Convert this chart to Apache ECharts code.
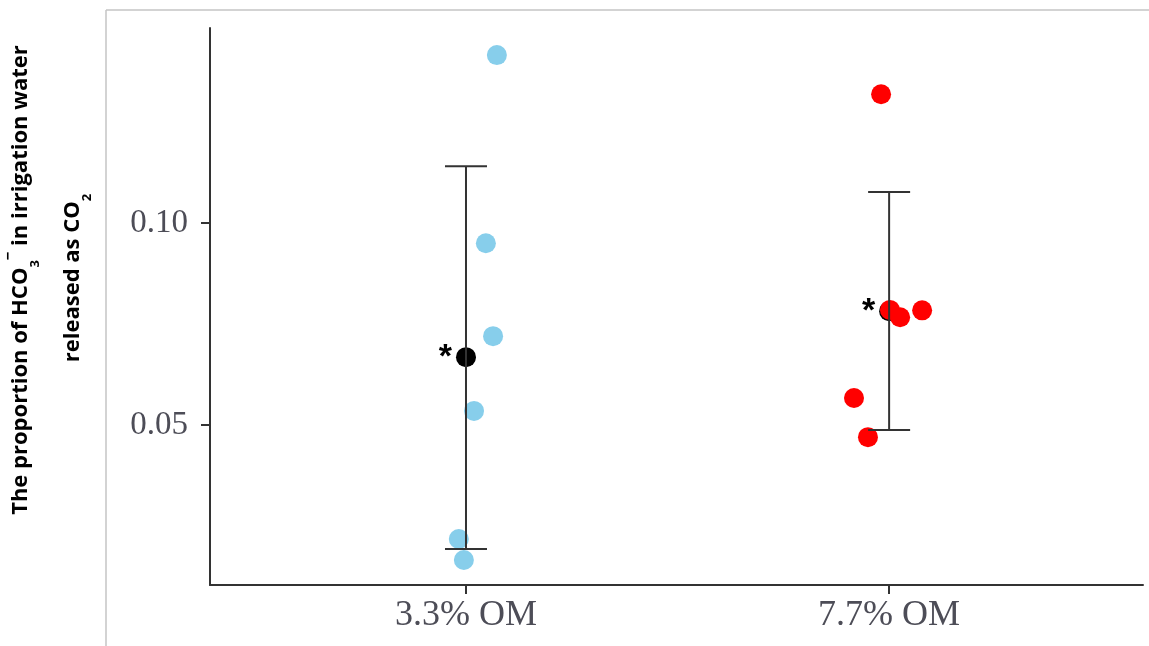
<!DOCTYPE html>
<html>
<head>
<meta charset="utf-8">
<script src="https://cdn.jsdelivr.net/npm/echarts@6/dist/echarts.min.js"></script>
<style>html,body{margin:0;padding:0;background:#fff;}#c{width:1149px;height:646px;}</style>
</head>
<body>
<div id="c"></div>
<script>
// ---- data ----
var categories = ['3.3% OM', '7.7% OM'];
var yTicks = [0.05, 0.10];
var lowOMValues  = [0.1416, 0.0950, 0.0720, 0.0535, 0.0218, 0.0166];
var lowOMJitter  = [1.073, 1.047, 1.064, 1.019, 0.983, 0.995];
var highOMValues = [0.1319, 0.0785, 0.0767, 0.0784, 0.0567, 0.0470];
var highOMJitter = [1.981, 2.002, 2.026, 2.078, 1.917, 1.950];
var groupPos = [1, 2];
var means = [0.0668, 0.0782];
var upper = [0.1141, 0.1077];
var lower = [0.0193, 0.0488];

function pairs(xs, ys) { return ys.map(function (v, i) { return [xs[i], v]; }); }

var chart = echarts.init(document.getElementById('c'));
var axisColor = '#333';
var tickFont = 'Liberation Serif';

chart.setOption({
  animation: false,
  backgroundColor: '#fff',
  grid: { left: 210, right: 6, top: 28, bottom: 61 },
  xAxis: {
    type: 'value', min: 0.395, max: 2.6,
    axisLine: { show: true, onZero: false, lineStyle: { color: axisColor, width: 2 } },
    axisTick: { show: true, customValues: groupPos, length: 9, lineStyle: { color: axisColor, width: 2 } },
    axisLabel: {
      customValues: groupPos, margin: 13,
      formatter: function (v) { return categories[Math.round(v) - 1]; },
      fontFamily: tickFont, fontSize: 36, color: '#4d4d57'
    },
    splitLine: { show: false }
  },
  yAxis: {
    type: 'value', min: 0.0104, max: 0.1483,
    axisLine: { show: true, onZero: false, lineStyle: { color: axisColor, width: 2 } },
    axisTick: { show: true, customValues: yTicks, length: 9, lineStyle: { color: axisColor, width: 2 } },
    axisLabel: {
      customValues: yTicks, margin: 22,
      formatter: function (v) { return v.toFixed(2); },
      fontFamily: tickFont, fontSize: 33, color: '#4d4d57'
    },
    splitLine: { show: false }
  },
  graphic: [
    { type: 'line', silent: true, shape: { x1: 106, y1: 10, x2: 106, y2: 646 }, style: { stroke: '#c4c4c4', lineWidth: 1.5 } },
    { type: 'line', silent: true, shape: { x1: 106, y1: 10, x2: 1149, y2: 10 }, style: { stroke: '#c4c4c4', lineWidth: 1.5 } },
    {
      type: 'text', x: 21, y: 280, rotation: Math.PI / 2, silent: true,
      style: {
        text: '{b|The proportion of HCO}{sub|3}{sup|−}{b| in irrigation water}',
        align: 'center', verticalAlign: 'middle',
        rich: {
          b: { fontFamily: 'Open Sans', fontWeight: 'bold', fontSize: 22, fill: '#000', lineHeight: 32 },
          sub: { fontFamily: 'Open Sans', fontWeight: 'bold', fontSize: 13, fill: '#000', padding: [28, 0, 0, 0] },
          sup: { fontFamily: 'Open Sans', fontWeight: 'bold', fontSize: 15, fill: '#000', padding: [0, 0, 24, 0] }
        }
      }
    },
    {
      type: 'text', x: 73, y: 278, rotation: Math.PI / 2, silent: true,
      style: {
        text: '{b|released as CO}{sub|2}',
        align: 'center', verticalAlign: 'middle',
        rich: {
          b: { fontFamily: 'Open Sans', fontWeight: 'bold', fontSize: 22, fill: '#000', lineHeight: 32 },
          sub: { fontFamily: 'Open Sans', fontWeight: 'bold', fontSize: 13, fill: '#000', padding: [28, 0, 0, 0] }
        }
      }
    }
  ],
  series: [
    {
      name: 'mean', type: 'scatter', z: 2,
      symbolSize: 20,
      itemStyle: { color: '#000', opacity: 1 },
      data: pairs(groupPos, means),
      label: { show: true, position: 'left', distance: 4, formatter: '*', fontSize: 34, fontWeight: 'bold', fontFamily: 'Liberation Sans', color: '#000' }
    },
    {
      name: categories[0], type: 'scatter', z: 3,
      symbolSize: 20,
      itemStyle: { color: '#87ceeb', opacity: 1 },
      data: pairs(lowOMJitter, lowOMValues)
    },
    {
      name: categories[1], type: 'scatter', z: 3,
      symbolSize: 20,
      itemStyle: { color: '#ff0000', opacity: 1 },
      data: pairs(highOMJitter, highOMValues)
    },
    {
      name: 'error', type: 'custom', z: 4,
      data: groupPos.map(function (p, i) { return [p, lower[i], upper[i]]; }),
      renderItem: function (params, api) {
        var lo = api.coord([api.value(0), api.value(1)]);
        var hi = api.coord([api.value(0), api.value(2)]);
        var hw = 21;
        var st = { stroke: '#333', lineWidth: 2 };
        return {
          type: 'group',
          children: [
            { type: 'line', shape: { x1: hi[0], y1: hi[1], x2: lo[0], y2: lo[1] }, style: st },
            { type: 'line', shape: { x1: hi[0] - hw, y1: hi[1], x2: hi[0] + hw, y2: hi[1] }, style: st },
            { type: 'line', shape: { x1: lo[0] - hw, y1: lo[1], x2: lo[0] + hw, y2: lo[1] }, style: st }
          ]
        };
      }
    }
  ]
});
</script>
</body>
</html>
